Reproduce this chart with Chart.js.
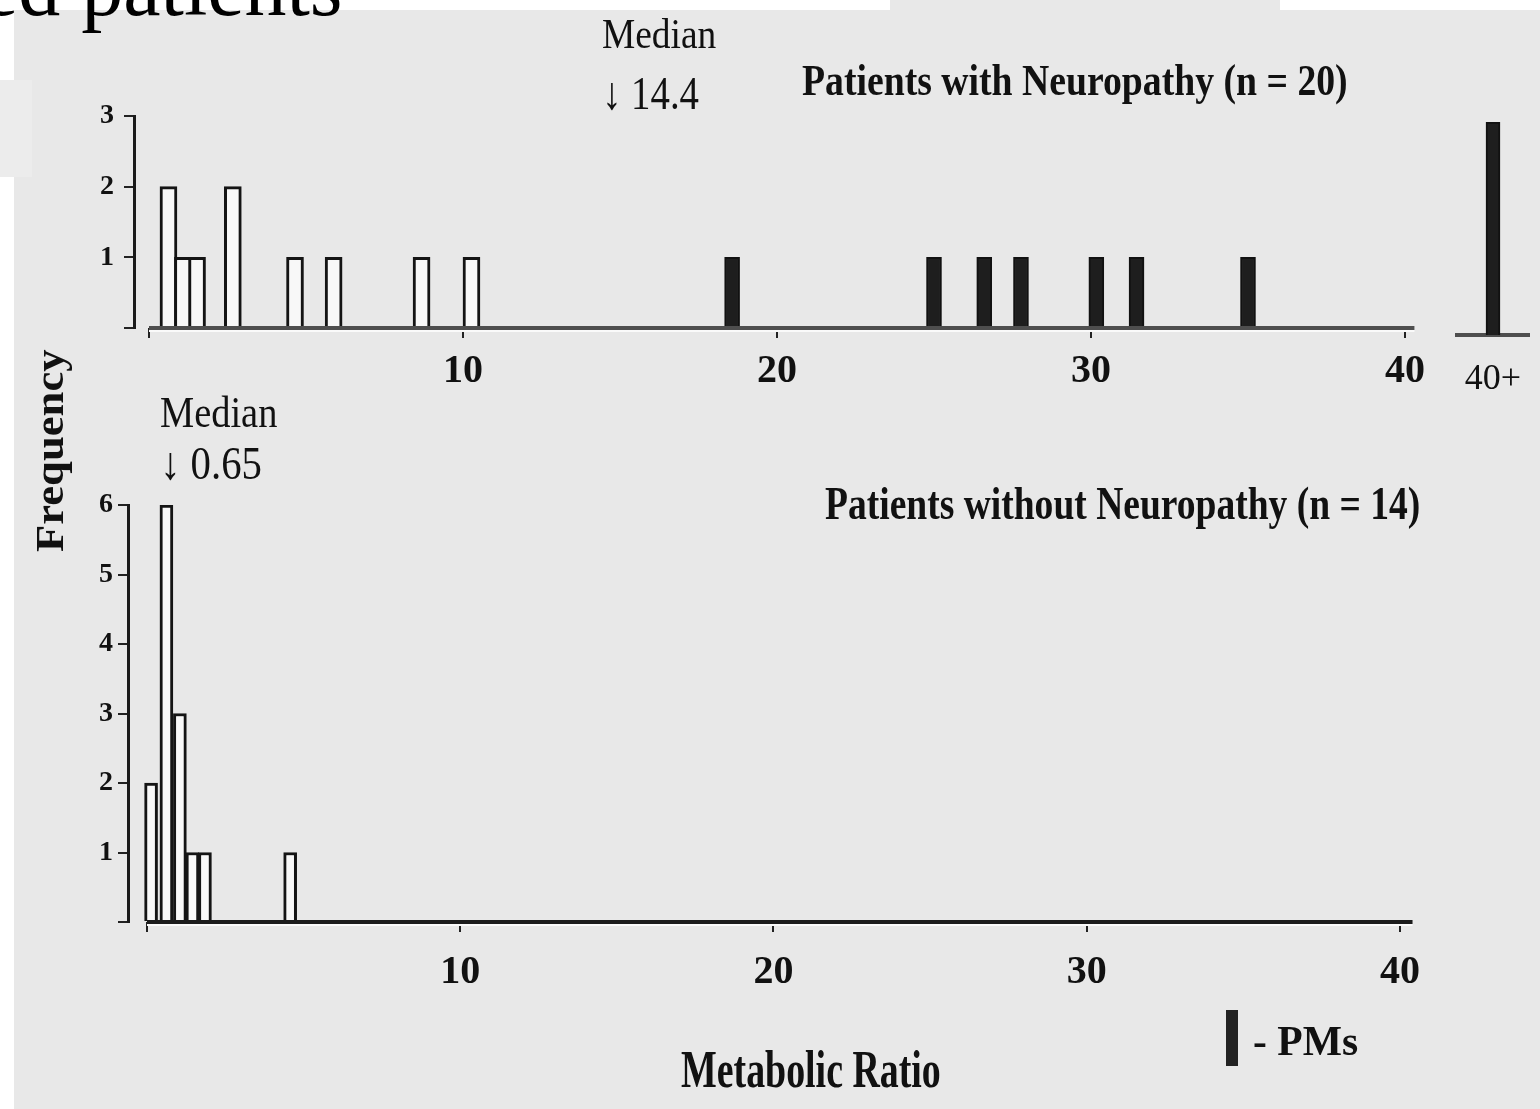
<!DOCTYPE html>
<html><head><meta charset="utf-8">
<script src="https://cdn.jsdelivr.net/npm/chart.js@4.4.1/dist/chart.umd.min.js"></script>
<style>
html,body{margin:0;padding:0;background:#fff;}
#stage{position:relative;width:1540px;height:1109px;overflow:hidden;background:#fff;}
.bg{position:absolute;background:#e8e8e8;}
.box{position:absolute;}
.lbl{position:absolute;white-space:nowrap;font-family:"Liberation Serif","Times New Roman",serif;color:#111;line-height:1;transform-origin:0 0;z-index:5;}
.b{font-weight:bold;}
#title{position:absolute;left:-19px;top:-55px;font-family:"Liberation Serif","Times New Roman",serif;font-size:84px;line-height:1;color:#000;white-space:nowrap;z-index:6;}
#pmSwatch{position:absolute;left:1226px;top:1010px;width:12px;height:56px;background:#222;z-index:5;}
</style></head>
<body><div id="stage">
<div class="bg" style="left:14px;top:10px;right:0;bottom:0"></div>
<div class="bg" style="left:890px;top:0;width:390px;height:10px"></div>
<div class="bg" style="left:0;top:80px;width:32px;height:97px;background:#ececec"></div>
<div id="title">ed patients</div>

<div class="box" style="left:0;top:0;width:1540px;height:420px"><canvas id="topChart"></canvas></div>
<div class="box" style="left:1440px;top:0;width:100px;height:430px"><canvas id="overChart"></canvas></div>
<div class="box" style="left:0;top:420px;width:1540px;height:689px"><canvas id="botChart"></canvas></div>

<div class="lbl" data-w="114" style="left:602px;top:13px;font-size:42px">Median</div>
<div class="lbl" data-w="97" style="left:602px;top:71px;font-size:46px">↓ 14.4</div>
<div class="lbl b" data-w="546" style="left:802px;top:59px;font-size:44px">Patients with Neuropathy (n = 20)</div>
<div class="lbl" data-w="117" style="left:160px;top:391px;font-size:44px">Median</div>
<div class="lbl" data-w="102" style="left:160px;top:441px;font-size:46px">↓ 0.65</div>
<div class="lbl b" data-w="595" style="left:825px;top:481px;font-size:46px">Patients without Neuropathy (n = 14)</div>
<div class="lbl b" data-w="202" data-rot="1" style="left:30px;top:552px;font-size:40px">Frequency</div>
<div class="lbl b" data-w="260" style="left:681px;top:1044px;font-size:52px">Metabolic Ratio</div>
<div id="pmSwatch"></div>
<div class="lbl b" data-w="105" style="left:1253px;top:1020px;font-size:42px">- PMs</div>
</div>
<script>
// ---- data ----
const xTickValues = [0, 10, 20, 30, 40];
const topYTicks = [0, 1, 2, 3];
const botYTicks = [0, 1, 2, 3, 4, 5, 6];

// Patients with neuropathy: extensive metabolisers (open bars)
const topOpenRatio = [0.62, 1.08, 1.53, 2.67, 4.65, 5.88, 8.68, 10.27];
const topOpenFreq  = [2, 1, 1, 2, 1, 1, 1, 1];
// Patients with neuropathy: poor metabolisers (filled bars)
const topPMRatio = [18.57, 25.0, 26.6, 27.77, 30.17, 31.45, 35.0];
const topPMFreq  = [1, 1, 1, 1, 1, 1, 1];
// Overflow bin
const overLabels = ['40+'];
const overPMFreq = [3];
// Patients without neuropathy (open bars)
const botRatio = [0.13, 0.62, 1.05, 1.45, 1.85, 4.57];
const botFreq  = [2, 6, 3, 1, 1, 1];

const toXY = (xs, ys) => xs.map((x, i) => ({x: x, y: ys[i]}));
const SERIF = '"Liberation Serif","Times New Roman",serif';
const noPad = s => { s.paddingLeft = 0; s.paddingRight = 0; };

const axisLine = {
  id: 'axisLine',
  afterDatasetsDraw(chart, args, o) {
    if (o.to === undefined) return;
    const xs = chart.scales.x, ys = chart.scales.y, ctx = chart.ctx;
    const y0 = ys.getPixelForValue(0);
    const a = xs.getPixelForValue(o.from), b = xs.getPixelForValue(o.to);
    ctx.save();
    ctx.strokeStyle = '#fafafa'; ctx.lineWidth = 2;
    ctx.beginPath(); ctx.moveTo(a, y0 + o.width / 2 + 1); ctx.lineTo(b, y0 + o.width / 2 + 1); ctx.stroke();
    ctx.strokeStyle = o.color; ctx.lineWidth = o.width;
    ctx.beginPath(); ctx.moveTo(a, y0); ctx.lineTo(b, y0); ctx.stroke();
    ctx.restore();
  }
};

function panel(id, o) {
  return new Chart(document.getElementById(id), {
    type: 'bar',
    data: { datasets: o.datasets },
    plugins: [axisLine],
    options: {
      animation: false, responsive: true, maintainAspectRatio: false, devicePixelRatio: 1,
      layout: { padding: o.padding },
      plugins: { legend: {display: false}, tooltip: {enabled: false},
                 axisLine: {from: 0, to: o.lineTo, color: o.lineColor, width: 4} },
      scales: {
        x: {
          type: 'linear', min: o.xMin, max: 40, offset: false,
          afterBuildTicks: s => { s.ticks = xTickValues.map(v => ({value: v})); },
          afterFit: s => { s.height = o.xHeight; noPad(s); },
          grid: {display: true, offset: false, drawOnChartArea: false, drawTicks: true, tickLength: 10, color: '#222', lineWidth: 2},
          border: {display: false},
          ticks: {callback: v => (v === 0 ? '' : String(v)), autoSkip: false, maxRotation: 0,
                  color: '#111', padding: o.xPad, font: {family: SERIF, weight: 'bold', size: 40}}
        },
        y: {
          min: 0, max: o.yTicks[o.yTicks.length - 1],
          afterBuildTicks: s => { s.ticks = o.yTicks.map(v => ({value: v})); },
          afterFit: s => { s.width = o.yWidth; s.paddingTop = 0; s.paddingBottom = 0; },
          grid: {display: true, drawOnChartArea: false, drawTicks: true, tickLength: 10, color: '#222', lineWidth: 2},
          border: {display: true, color: '#1a1a1a', width: 3},
          ticks: {callback: v => (v === 0 ? '' : String(v)), color: '#111', padding: o.yPad,
                  font: {family: SERIF, weight: 'bold', size: 28}}
        }
      }
    }
  });
}

const openStyle = {backgroundColor: '#f8f8f8', borderColor: '#141414', borderWidth: 3, borderSkipped: 'bottom', grouped: false};
const pmStyle = {backgroundColor: '#1e1e1e', borderColor: '#111', borderWidth: 2, borderSkipped: 'bottom', grouped: false};

panel('topChart', {
  datasets: [
    Object.assign({label: 'EMs', data: toXY(topOpenRatio, topOpenFreq), barThickness: 17}, openStyle),
    Object.assign({label: 'PMs', data: toXY(topPMRatio, topPMFreq), barThickness: 15}, pmStyle)
  ],
  padding: {left: 0, top: 116, right: 135, bottom: 0},
  xMin: -0.4777, xHeight: 92, yWidth: 134, yTicks: topYTicks,
  xPad: 10, yPad: 10, lineTo: 40.3, lineColor: '#4e4e4e'
});

panel('botChart', {
  datasets: [
    Object.assign({label: 'EMs', data: toXY(botRatio, botFreq), barThickness: 13}, openStyle)
  ],
  padding: {left: 0, top: 85, right: 140, bottom: 0},
  xMin: -0.6065, xHeight: 187, yWidth: 128, yTicks: botYTicks,
  xPad: 17, yPad: 5, lineTo: 40.4, lineColor: '#1c1c1c'
});

new Chart(document.getElementById('overChart'), {
  type: 'bar',
  data: { labels: overLabels, datasets: [Object.assign({label: 'PMs', data: overPMFreq, barThickness: 14}, pmStyle)] },
  options: {
    animation: false, responsive: true, maintainAspectRatio: false, devicePixelRatio: 1,
    layout: { padding: {left: 17, right: 11, top: 122, bottom: 0} },
    plugins: { legend: {display: false}, tooltip: {enabled: false} },
    scales: {
      x: { type: 'category', offset: true,
           afterFit: s => { s.height = 95; noPad(s); },
           grid: {display: false, drawTicks: false},
           border: {display: true, color: '#4e4e4e', width: 4},
           ticks: {color: '#111', padding: 23, font: {family: SERIF, size: 36}} },
      y: { display: false, min: 0, max: 3 }
    }
  }
});

// fit annotation text to the widths measured on the figure
document.querySelectorAll('.lbl').forEach(el => {
  const w = parseFloat(el.dataset.w);
  const s = w / el.offsetWidth;
  el.style.transform = el.dataset.rot ? `rotate(-90deg) scaleX(${s})` : `scaleX(${s})`;
});
</script>
</body></html>
